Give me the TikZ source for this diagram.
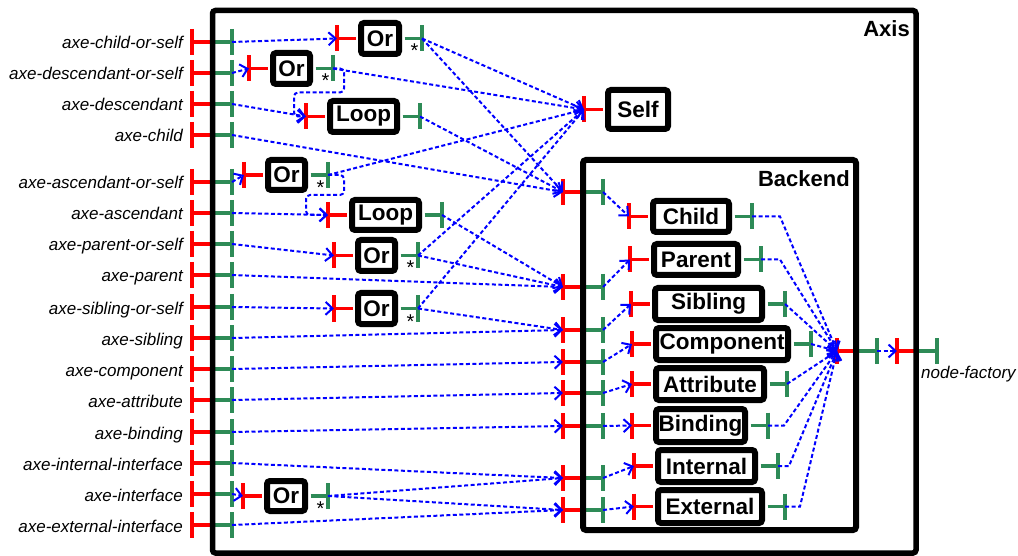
\documentclass[tikz,border=0pt]{standalone}
\usepackage{fontspec}
\setmainfont{Liberation Sans}
\usetikzlibrary{arrows.meta,calc}
\definecolor{pgreen}{RGB}{46,139,87}
\definecolor{pblue}{RGB}{0,0,255}
\definecolor{pred}{RGB}{255,0,0}
\newcommand\mycomp[6]{%
  \node[box, minimum width={#4-6}, minimum height={#5-6}] (#1) at (#2,#3) {#6};
  \coordinate (#1-in) at ($(#1.west)+(-21,0)$);
  \coordinate (#1-out) at ($(#1.east)+(20,0)$);
  \draw[redl] (#1-in) -- ($(#1.west)+(-2.5,0)$);
  \draw[redl] ($(#1-in)+(0,-13)$) -- ($(#1-in)+(0,13)$);
  \draw[greenl] ($(#1.east)+(2.5,0)$) -- (#1-out);
  \draw[greenl] ($(#1-out)+(0,-13)$) -- ($(#1-out)+(0,13)$);
}
\newcommand\myport[5]{% name, redx, borderx, greenx, y
  \coordinate (#1-r) at (#2,#5);
  \coordinate (#1) at (#4,#5);
  \draw[redl] (#1-r) -- (#3,#5);
  \draw[greenl] (#3,#5) -- (#1);
  \draw[redl] ($(#1-r)+(0,-13)$) -- ($(#1-r)+(0,13)$);
  \draw[greenl] ($(#1)+(0,-13)$) -- ($(#1)+(0,13)$);
}
\newcommand\lrow[3]{% name, y, text
  \myport{#1}{192}{212.5}{232}{#2}
  \node[lbl] (#1-t) at (183,{#2+7}) {#3};
}
\begin{document}
\begin{tikzpicture}[x=1pt,y=-1pt,
  redl/.style={pred, line width=3.5pt},
  greenl/.style={pgreen, line width=3.5pt},
  conn/.style={pblue, line width=2pt, dash pattern=on 4pt off 2.5pt, -{Straight Barb[length=7pt,width=13pt]}},
  box/.style={draw, line width=6pt, rounded corners=3pt, fill=white, inner sep=0pt, font=\fontsize{22.5}{27}\selectfont\bfseries},
  lbl/.style={font=\fontsize{17}{20}\selectfont\itshape, anchor=base east, inner sep=0pt},
  star/.style={font=\fontsize{20}{22}\selectfont, anchor=base, inner sep=0pt},
  title/.style={font=\fontsize{22}{26}\selectfont\bfseries, anchor=base east, inner sep=0pt},
]
\fill[white] (0,0) rectangle (1018,556);
\useasboundingbox (0,0) rectangle (1018,556);

% left ports of Axis
\lrow{L1}{42}{axe-child-or-self}
\lrow{L2}{73}{axe-descendant-or-self}
\lrow{L3}{104}{axe-descendant}
\lrow{L4}{135}{axe-child}
\lrow{L5}{182}{axe-ascendant-or-self}
\lrow{L6}{213}{axe-ascendant}
\lrow{L7}{244}{axe-parent-or-self}
\lrow{L8}{275}{axe-parent}
\lrow{L9}{307}{axe-sibling-or-self}
\lrow{L10}{338}{axe-sibling}
\lrow{L11}{369}{axe-component}
\lrow{L12}{400}{axe-attribute}
\lrow{L13}{432}{axe-binding}
\lrow{L14}{463}{axe-internal-interface}
\lrow{L15}{494}{axe-interface}
\lrow{L16}{525}{axe-external-interface}

% backend input ports
\myport{b1}{563}{583}{603}{192}
\myport{b2}{563}{583}{603}{287}
\myport{b3}{563}{583}{603}{330}
\myport{b4}{563}{583}{603}{362}
\myport{b5}{563}{583}{603}{393}
\myport{b6}{563}{583}{603}{426}
\myport{b7}{563}{583}{603}{478}
\myport{b8}{563}{583}{603}{510}

% output ports
\myport{mg}{837}{856}{877}{351}
\myport{ax}{897}{916}{937}{351}
\node[font=\fontsize{17}{20}\selectfont\itshape, anchor=base west, inner sep=0pt] (nf) at (921,378) {node-factory};

% containers
\draw[line width=5.5pt, rounded corners=3pt] (212.5,10.5) rectangle (916,553);
\node[title] (axist) at (910,36.5) {Axis};
\draw[line width=6pt, rounded corners=3pt] (583,160) rectangle (856,530);
\node[title] (backt) at (850,187) {Backend};

% components
\mycomp{or1}{380}{38.5}{44}{37}{Or}
\mycomp{or2}{291.5}{68.5}{43}{37}{Or}
\mycomp{loop3}{363.5}{116.5}{73}{37}{Loop}
\mycomp{or5}{286.5}{175}{43}{36}{Or}
\mycomp{loop6}{385.5}{215}{73}{36}{Loop}
\mycomp{or7}{376.5}{255.5}{43}{37}{Or}
\mycomp{or9}{376.5}{308.5}{43}{37}{Or}
\mycomp{or15}{286}{496}{44}{36}{Or}
\node[box, minimum width={66-6}, minimum height={45-6}] (self) at (638,109.5) {Self};
\coordinate (self-in) at ($(self.west)+(-21,0)$);
\draw[redl] (self-in) -- ($(self.west)+(-2.5,0)$);
\draw[redl] ($(self-in)+(0,-13)$) -- ($(self-in)+(0,13)$);

\mycomp{child}{691}{216.5}{82}{37}{Child}
\mycomp{parent}{696}{259.5}{90}{37}{Parent}
\mycomp{sibling}{708.5}{304}{113}{38}{Sibling}
\mycomp{component}{722}{344}{138}{38}{Component}
\mycomp{attribute}{710}{384}{114}{38}{Attribute}
\mycomp{binding}{700.5}{425.5}{95}{39}{Binding}
\mycomp{internal}{706.5}{466}{103}{38}{Internal}
\mycomp{external}{710}{506.5}{110}{39}{External}

\foreach \n in {or1,or2,or5,or7,or9,or15}{
  \node[star] (\n-s) at ($(\n-out)+(-7.5,19.5)$) {*};
}

% connectors
\draw[conn] (L1) -- (or1-in);
\draw[conn] (L2) -- (or2-in);
\draw[conn] (L3) -- (loop3-in);
\draw[conn, rounded corners=4pt] (or2-out) -- ++(11,0) -- ++(0,24) -| ($(loop3-in)+(-12,0)$) -- (loop3-in);
\draw[conn] (L4) -- (b1-r);
\draw[conn] (or1-out) -- (self-in);
\draw[conn] (or1-out) -- (b1-r);
\draw[conn] (or2-out) -- (self-in);
\draw[conn] (loop3-out) -- (b1-r);
\draw[conn] (L5) -- (or5-in);
\draw[conn] (or5-out) -- (self-in);
\draw[conn, rounded corners=4pt] (or5-out) -- ++(16,0) -- ++(0,20) -| ($(loop6-in)+(-22,0)$) -- (loop6-in);
\draw[conn] (L6) -- (loop6-in);
\draw[conn] (loop6-out) -- (b2-r);
\draw[conn] (L7) -- (or7-in);
\draw[conn] (or7-out) -- (self-in);
\draw[conn] (or7-out) -- (b2-r);
\draw[conn] (L8) -- (b2-r);
\draw[conn] (L9) -- (or9-in);
\draw[conn] (or9-out) -- (self-in);
\draw[conn] (or9-out) -- (b3-r);
\draw[conn] (L10) -- (b3-r);
\draw[conn] (L11) -- (b4-r);
\draw[conn] (L12) -- (b5-r);
\draw[conn] (L13) -- (b6-r);
\draw[conn] (L14) -- (b7-r);
\draw[conn] (L15) -- (or15-in);
\draw[conn] (or15-out) -- (b7-r);
\draw[conn] (or15-out) -- (b8-r);
\draw[conn] (L16) -- (b8-r);

\draw[conn] (b1) -- (child-in);
\draw[conn] (b2) -- (parent-in);
\draw[conn] (b3) -- (sibling-in);
\draw[conn] (b4) -- (component-in);
\draw[conn] (b5) -- (attribute-in);
\draw[conn] (b6) -- (binding-in);
\draw[conn] (b7) -- (internal-in);
\draw[conn] (b8) -- (external-in);

\draw[conn] (child-out) -- ++(28,0) -- (mg-r);
\draw[conn] (parent-out) -- ++(19,0) -- (mg-r);
\draw[conn] (sibling-out) -- (mg-r);
\draw[conn] (component-out) -- (mg-r);
\draw[conn] (attribute-out) -- (mg-r);
\draw[conn] (binding-out) -- ++(16,0) -- (mg-r);
\draw[conn] (internal-out) -- ++(11,0) -- (mg-r);
\draw[conn] (external-out) -- ++(15,0) -- (mg-r);
\draw[conn] (mg) -- (ax-r);
\end{tikzpicture}
\end{document}
